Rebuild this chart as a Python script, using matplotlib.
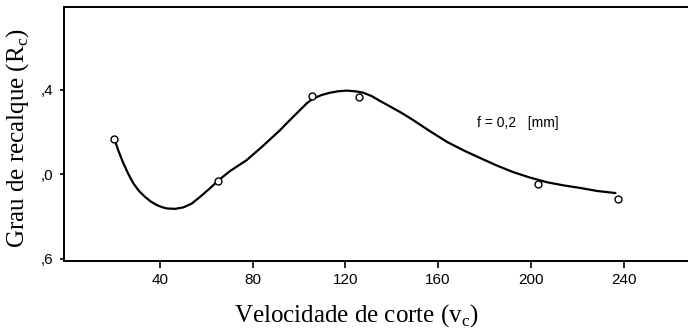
import numpy as np
import matplotlib
matplotlib.use('Agg')
import matplotlib.pyplot as plt
from matplotlib.ticker import FuncFormatter

# measured points (open circles)
vc_pts = [20.4, 65.3, 105.5, 125.9, 203.3, 237.8]
rc_pts = [3.168, 2.968, 3.373, 3.368, 2.955, 2.882]

# fitted curve
curve_vc = [20.4, 22.3, 24.3, 26.4, 28.6, 31.0, 33.6, 36.1, 38.7, 41.0, 43.0,
            46.6, 50.2, 53.8, 57.4, 61.3, 65.3, 70.3, 77.5, 84.7, 91.9, 95.6,
            99.1, 103.4, 106.2, 109.8, 113.4, 117.0, 120.6, 124.2, 127.8,
            131.4, 135.0, 139.3, 144.2, 149.2, 156.5, 163.9, 171.0, 178.1,
            185.2, 192.4, 199.7, 207.0, 214.2, 221.3, 228.4, 235.5, 236.5]
curve_rc = [3.168, 3.108, 3.053, 3.003, 2.958, 2.922, 2.894, 2.872, 2.855, 2.845, 2.839,
            2.837, 2.844, 2.862, 2.894, 2.931, 2.972, 3.016, 3.068, 3.137, 3.21, 3.252,
            3.29, 3.337, 3.36, 3.376, 3.387, 3.394, 3.397, 3.394, 3.387,
            3.371, 3.348, 3.322, 3.292, 3.258, 3.205, 3.154, 3.114, 3.078,
            3.043, 3.011, 2.985, 2.963, 2.948, 2.936, 2.922, 2.913, 2.912]

xticks = [40, 80, 120, 160, 200, 240]
yticks = [2.6, 3.0, 3.4]

plt.rcParams['mathtext.fontset'] = 'custom'
plt.rcParams['mathtext.rm'] = 'Liberation Serif'

fig = plt.figure(figsize=(6.88, 3.33), dpi=100)
ax = fig.add_axes([64/688, 1 - 261/333, 1 - 64/688, 254/333])

ax.plot(curve_vc, curve_rc, color='black', lw=1.6, solid_joinstyle='round',
        solid_capstyle='round')
ax.plot(vc_pts, rc_pts, 'o', ms=5, mfc='white', mec='black', mew=1.0)

ax.set_xlim(-1.3, 267.8)
ax.set_ylim(2.59, 3.793)
ax.set_xticks(xticks)
ax.set_yticks(yticks)
ax.yaxis.set_major_formatter(FuncFormatter(lambda v, p: ',%d' % (round(v * 10) % 10)))

for lab in ax.get_xticklabels() + ax.get_yticklabels():
    lab.set_family('Liberation Sans')
    lab.set_fontsize(11)
ax.tick_params(axis='x', length=5, width=1.2, pad=4)
ax.tick_params(axis='y', length=3, width=1.2, pad=5)

ax.spines['right'].set_visible(False)
for s in ['left', 'top', 'bottom']:
    ax.spines[s].set_linewidth(1.4)

ax.text(176.8, 3.244, 'f = 0,2   [mm]', fontsize=10, family='Liberation Sans',
        va='center', ha='left')

fig.text(356/688, 1 - 316/333, r'Velocidade de corte (v$_\mathrm{c}$)',
         family='Liberation Serif', fontsize=18, ha='center', va='center')
fig.text(18/688, 1 - 138/333, r'Grau de recalque (R$_\mathrm{c}$)',
         family='Liberation Serif', fontsize=18, ha='center', va='center',
         rotation=90)

fig.savefig('out.png', dpi=100)
